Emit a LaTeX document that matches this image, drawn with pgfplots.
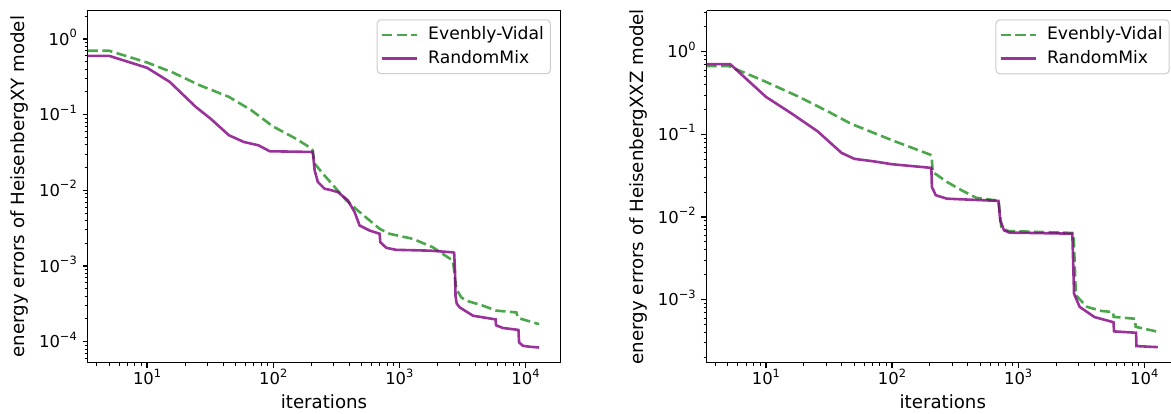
\documentclass[border=0pt]{standalone}
\usepackage{fontspec}
\setmainfont{DejaVu Sans}
\usepackage{pgfplots}
\pgfplotsset{compat=1.18}
\definecolor{evgreen}{rgb}{0,0.502,0}
\definecolor{rmpurple}{rgb}{0.502,0,0.502}
\newcommand{\ee}[1]{10\raisebox{3.85pt}{\fontsize{5.7}{6}\selectfont #1}}
\pgfplotsset{
  legend image code/.code={\draw[#1] (0pt,0pt) -- (17.5pt,0pt);},
  every axis/.append style={
    scale only axis, width=236.3pt, height=175.9pt,
    xtick pos=bottom, ytick pos=left,
    tick align=outside,
    major tick length=2.6pt, minor tick length=1.5pt,
    major tick style={black, line width=0.65pt},
    minor tick style={black, line width=0.5pt},
    axis line style={black, line width=0.7pt},
    xticklabel style={font=\fontsize{8.2}{9}\selectfont, anchor=base, inner sep=0pt, yshift=-8.55pt},
    yticklabel style={font=\fontsize{8.2}{9}\selectfont, anchor=base east, inner sep=0pt, xshift=-2.65pt, yshift=-3pt},
    legend cell align=left,
    legend style={at={(1,1)}, anchor=north east, xshift=-4.7pt, yshift=-4.3pt,
      draw=black!20, line width=0.5pt, rounded corners=2pt, fill=white,
      font=\fontsize{8.6}{9}\selectfont, inner xsep=1.75pt, inner ysep=2pt,
      row sep=0.9pt, column sep=3.5pt, nodes={inner sep=1.5pt}},
  },
  every axis x label/.style={at={(axis description cs:0.5,0)}, anchor=base, yshift=-22.8pt, font=\fontsize{9.1}{10}\selectfont},
  every axis y label/.style={at={([xshift=-31.5pt]axis description cs:0,0.5)}, rotate=90, anchor=base, font=\fontsize{9.1}{10}\selectfont},
}
\begin{document}
\begin{tikzpicture}
\begin{axis}[at={(43.85pt,25.25pt)}, anchor=south west,
  xmode=log, ymode=log,
  xmin=3.38, xmax=18900,
  xtick={10,100,1000,10000},
  xticklabels={\ee{1},\ee{2},\ee{3},\ee{4}},
  minor xtick={4,5,6,7,8,9,20,30,40,50,60,70,80,90,200,300,400,500,600,700,800,900,2000,3000,4000,5000,6000,7000,8000,9000},
  ymin=5.32e-5, ymax=2.37,
  ytick={1e-4,1e-3,1e-2,1e-1,1},
  yticklabels={\ee{−4},\ee{−3},\ee{−2},\ee{−1},\ee{0}},
  minor ytick={6e-5,7e-5,8e-5,9e-5,2e-4,3e-4,4e-4,5e-4,6e-4,7e-4,8e-4,9e-4,2e-3,3e-3,4e-3,5e-3,6e-3,7e-3,8e-3,9e-3,2e-2,3e-2,4e-2,5e-2,6e-2,7e-2,8e-2,9e-2,0.2,0.3,0.4,0.5,0.6,0.7,0.8,0.9,2},
  xlabel={iterations},
  ylabel={energy errors of HeisenbergXY model}]
\addplot[evgreen, opacity=0.7, line width=1.3pt, dash pattern=on 5.1pt off 2.2pt] coordinates {
(3.38,0.70) (5,0.70) (10,0.49) (16.2,0.358) (26,0.246) (44.6,0.172) (66.9,0.115)
(99,0.0705) (151,0.0483) (198,0.0364) (205,0.034) (213,0.0226) (248,0.0166)
(307,0.0111) (380,0.00738) (484,0.00517) (698,0.00311) (838,0.00267) (1282,0.00229)
(1847,0.00177) (2660,0.00118) (2830,5.0e-4) (3100,3.86e-4) (3400,3.49e-4)
(4600,3.0e-4) (5880,2.58e-4) (8470,2.44e-4) (8750,2.06e-4) (12800,1.71e-4)
};
\addlegendentry{Evenbly-Vidal}
\addplot[rmpurple, opacity=0.8, line width=1.3pt] coordinates {
(3.38,0.60) (5,0.60) (10,0.417) (15.1,0.272) (24.3,0.127) (31.8,0.089) (44.6,0.0535)
(58.4,0.0437) (76.6,0.0394) (93.9,0.0329) (150,0.0325) (206,0.0322) (213,0.0184)
(226,0.0129) (256,0.0105) (280,0.0102) (326,0.0095) (391,0.00738) (442,0.00517)
(484,0.00344) (582,0.00295) (698,0.00267) (706,0.00207) (789,0.00174) (946,0.00164)
(1740,0.0016) (2660,0.00152) (2720,0.0015) (2760,0.0009) (2790,4.0e-4) (2850,3.2e-4)
(3006,2.85e-4) (3840,2.21e-4) (5520,2.0e-4) (5790,1.98e-4) (5850,1.65e-4)
(6640,1.52e-4) (8650,1.44e-4) (8800,1.43e-4) (8900,9.8e-5) (9550,8.85e-5)
(10800,8.6e-5) (12800,8.4e-5)
};
\addlegendentry{RandomMix}
\end{axis}
\begin{axis}[at={(353.25pt,25.25pt)}, anchor=south west,
  axis x line*=box, axis y line*=left, y axis line style={-},
  xtick pos=bottom, ytick pos=left,
  xmode=log, ymode=log,
  xmin=3.38, xmax=18900,
  xtick={10,100,1000,10000},
  xticklabels={\ee{1},\ee{2},\ee{3},\ee{4}},
  minor xtick={4,5,6,7,8,9,20,30,40,50,60,70,80,90,200,300,400,500,600,700,800,900,2000,3000,4000,5000,6000,7000,8000,9000},
  ymin=1.74e-4, ymax=3.14,
  ytick={1e-3,1e-2,1e-1,1},
  yticklabels={\ee{−3},\ee{−2},\ee{−1},\ee{0}},
  minor ytick={2e-4,3e-4,4e-4,5e-4,6e-4,7e-4,8e-4,9e-4,2e-3,3e-3,4e-3,5e-3,6e-3,7e-3,8e-3,9e-3,2e-2,3e-2,4e-2,5e-2,6e-2,7e-2,8e-2,9e-2,0.2,0.3,0.4,0.5,0.6,0.7,0.8,0.9,2,3},
  xlabel={iterations},
  ylabel={energy errors of HeisenbergXXZ model}]
\addplot[evgreen, opacity=0.7, line width=1.3pt, dash pattern=on 5.1pt off 2.2pt] coordinates {
(3.38,0.67) (5.1,0.67) (10,0.433) (18.3,0.285) (31.4,0.188) (47.1,0.135) (100,0.085)
(200,0.0571) (206,0.055) (210,0.0352) (272,0.0267) (356,0.0211) (466,0.0171)
(652,0.0160) (700,0.0159) (725,0.009) (736,0.0076) (826,0.00679) (2690,0.00643)
(2750,0.0064) (2870,0.00113) (3515,8.2e-4) (4605,7.3e-4) (5650,7.1e-4) (5720,6.2e-4)
(8450,5.89e-4) (8550,4.7e-4) (12800,4.1e-4)
};
\addlegendentry{Evenbly-Vidal}
\addplot[rmpurple, opacity=0.8, line width=1.3pt] coordinates {
(3.38,0.71) (5.2,0.71) (10,0.285) (16,0.179) (25.7,0.109) (39.8,0.0598) (50.4,0.0506)
(70.6,0.0474) (100,0.0436) (205,0.0394) (207,0.0232) (222,0.0184) (272,0.0167)
(698,0.0157) (721,0.00915) (772,0.00692) (855,0.00649) (2690,0.0063) (2775,0.00118)
(3075,8.2e-4) (4030,6.17e-4) (5640,5.37e-4) (5700,5.34e-4) (5760,4.14e-4)
(8610,3.99e-4) (8680,2.75e-4) (12800,2.67e-4)
};
\addlegendentry{RandomMix}
\end{axis}
\pgfresetboundingbox
\useasboundingbox (0,0) rectangle (585.5pt,206.5pt);
\end{tikzpicture}
\end{document}
